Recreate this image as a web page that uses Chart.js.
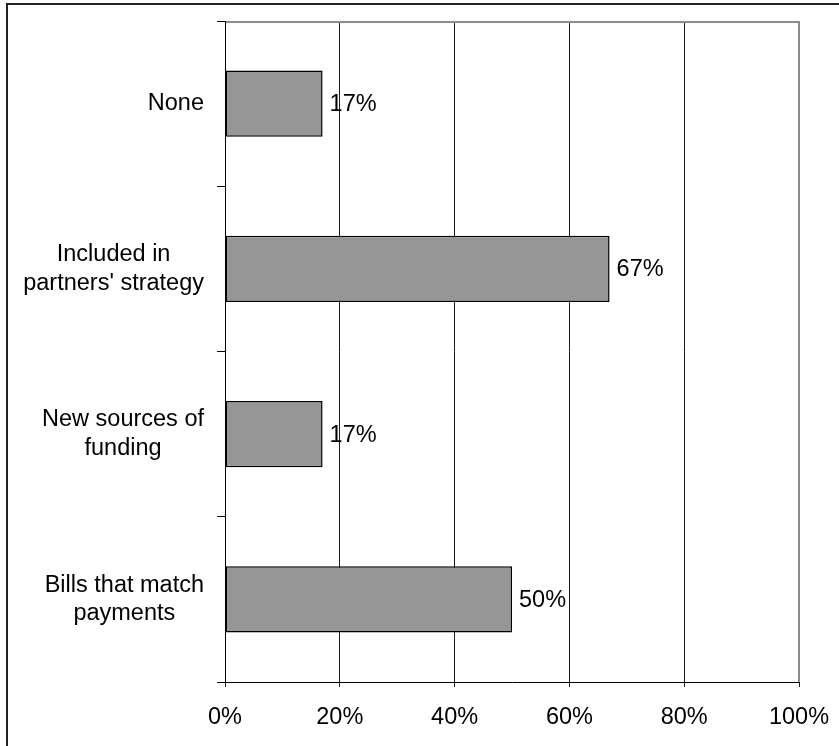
<!DOCTYPE html>
<html>
<head>
<meta charset="utf-8">
<script src="https://cdn.jsdelivr.net/npm/chart.js@4"></script>
<style>
  html, body { margin: 0; padding: 0; background: #fff; }
  canvas { display: block; }
</style>
</head>
<body>
<canvas id="chart" width="839" height="746"></canvas>
<script>
// categories, top to bottom
const categories = [
    ["None"],
    ["Included in", "partners' strategy"],
    ["New sources of", "funding"],
    ["Bills that match", "payments"]
];
const shares = [17, 67, 17, 50];
const tickValues = [0, 20, 40, 60, 80, 100];

const FONT = "'Liberation Sans', Arial, sans-serif";
const FONT_SIZE = 23.5;

// outer frame + gray top/right edge of the plot
const framePlugin = {
    id: "frame",
    beforeDraw(chart) {
        const c = chart.ctx;
        c.save();
        c.fillStyle = "#fff";
        c.fillRect(0, 0, chart.width, chart.height);
        c.strokeStyle = "#222";
        c.lineWidth = 2;
        c.beginPath();
        c.moveTo(7, chart.height);
        c.lineTo(7, 4);
        c.lineTo(chart.width, 4);
        c.stroke();
        c.restore();
    },
    afterDraw(chart) {
        const a = chart.chartArea;
        const c = chart.ctx;
        c.save();
        c.strokeStyle = "#8c8c8c";
        c.lineWidth = 2;
        c.beginPath();
        c.moveTo(a.left + 1, a.top + 1);
        c.lineTo(a.right, a.top + 1);
        c.lineTo(a.right, a.bottom);
        c.stroke();
        c.restore();
    }
};

// category names: lines centred inside a block that sits right-aligned
const categoryLabels = {
    id: "categoryLabels",
    afterDraw(chart) {
        const c = chart.ctx;
        const yScale = chart.scales.y;
        const right = 204;
        const lineH = 28.5;
        c.save();
        c.font = FONT_SIZE + "px " + FONT;
        c.fillStyle = "#000";
        c.textAlign = "center";
        c.textBaseline = "middle";
        categories.forEach((lines, i) => {
            const y = yScale.getPixelForValue(i);
            const w = Math.max(...lines.map(l => c.measureText(l).width));
            const cx = right - w / 2;
            const y0 = y - (lines.length - 1) * lineH / 2;
            lines.forEach((l, j) => c.fillText(l, cx, y0 + j * lineH));
        });
        c.restore();
    }
};

// value labels to the right of each bar
const valueLabels = {
    id: "valueLabels",
    afterDatasetsDraw(chart) {
        const c = chart.ctx;
        const meta = chart.getDatasetMeta(0);
        c.save();
        c.font = FONT_SIZE + "px " + FONT;
        c.fillStyle = "#000";
        c.textAlign = "left";
        c.textBaseline = "middle";
        meta.data.forEach((bar, i) => {
            c.fillText(shares[i] + "%", bar.x + 7, bar.y + 1);
        });
        c.restore();
    }
};

new Chart(document.getElementById("chart"), {
    type: "bar",
    data: {
        labels: categories,
        datasets: [{
            data: shares,
            backgroundColor: "#969696",
            borderColor: "#000",
            borderWidth: 1.5,
            borderSkipped: false,
            categoryPercentage: 1,
            barPercentage: 0.4
        }]
    },
    options: {
        indexAxis: "y",
        responsive: false,
        animation: false,
        devicePixelRatio: 1,
        layout: { padding: { top: 21, right: 40, left: 0, bottom: 0 } },
        plugins: {
            legend: { display: false },
            tooltip: { enabled: false }
        },
        scales: {
            x: {
                min: 0,
                max: 100,
                afterBuildTicks: s => { s.ticks = tickValues.map(v => ({ value: v })); },
                afterFit: s => {
                    s.height = 64;
                    s.paddingLeft = 0;
                    s.paddingRight = 0;
                },
                ticks: {
                    callback: v => v + "%",
                    color: "#000",
                    font: { family: FONT, size: FONT_SIZE },
                    padding: 16,
                    maxRotation: 0
                },
                grid: {
                    color: "#1a1a1a",
                    lineWidth: 1,
                    tickLength: 5,
                    drawTicks: true
                },
                border: { display: true, color: "#000", width: 1 }
            },
            y: {
                offset: true,
                afterFit: s => { s.width = 225; },
                ticks: { display: false },
                grid: {
                    offset: true,
                    drawOnChartArea: false,
                    drawTicks: true,
                    tickLength: 8,
                    color: "#000",
                    lineWidth: 1
                },
                border: { display: true, color: "#000", width: 1 }
            }
        }
    },
    plugins: [framePlugin, valueLabels, categoryLabels]
});
</script>
</body>
</html>
